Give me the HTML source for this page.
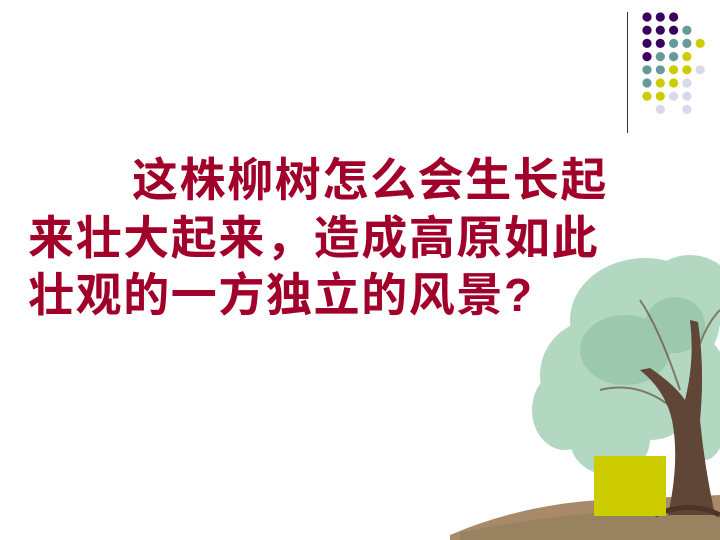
<!DOCTYPE html>
<html><head><meta charset="utf-8"><style>
html,body{margin:0;padding:0;background:#fff}
#s{position:relative;width:720px;height:540px;overflow:hidden;background:#fff}
.t{position:absolute;font-family:"Liberation Sans","Noto Sans CJK SC",sans-serif;font-weight:bold;color:#a0002a;font-size:46px;letter-spacing:1.6px;white-space:nowrap;line-height:1}
</style></head><body>
<div id="s">
<div style="position:absolute;left:627px;top:12px;width:1px;height:121px;background:#333"></div>
<svg width="720" height="140" style="position:absolute;left:0;top:0">
<g id="dots"></g></svg>
<div class="t" style="left:132px;top:157px">这株柳树怎么会生长起</div>
<div class="t" style="left:28px;top:215px">来壮大起来，造成高原如此</div>
<div class="t" style="left:28px;top:272px">壮观的一方独立的风景?</div>
<svg width="720" height="540" style="position:absolute;left:0;top:0">
<path d="M450 535 Q520 505 600 500 L720 495 L720 540 L450 540Z" fill="#a88a68"/>
<path d="M460 533 Q540 516 620 511 L720 513 L720 540 L460 540Z" fill="#8a7a58" opacity=".5"/>
<g fill="#a6d2b8" opacity=".85">
<ellipse cx="645" cy="320" rx="75" ry="62"/>
<ellipse cx="595" cy="375" rx="55" ry="55"/>
<ellipse cx="565" cy="410" rx="33" ry="40"/>
<ellipse cx="690" cy="295" rx="45" ry="40"/>
<ellipse cx="610" cy="440" rx="40" ry="35"/>
<ellipse cx="705" cy="400" rx="25" ry="60"/>
<ellipse cx="650" cy="400" rx="45" ry="40"/>
</g>
<g fill="#7fb596" opacity=".45">
<ellipse cx="625" cy="350" rx="45" ry="35"/>
<ellipse cx="675" cy="325" rx="30" ry="28"/>
</g>
<g stroke="#6a5040" stroke-width="2" fill="none" opacity=".7">
<path d="M675 410 Q640 380 600 390"/><path d="M680 390 Q660 330 640 300"/><path d="M690 380 Q700 330 720 310"/>
</g>
<path d="M668 515 Q680 460 672 420 Q665 390 640 370 L650 368 Q675 385 685 400 Q695 360 690 320 L698 322 Q705 370 700 420 Q705 470 715 515Z" fill="#5f4636"/>
<path d="M655 515 Q690 500 720 515" stroke="#4a3528" stroke-width="5" fill="none"/>
</svg>
<div style="position:absolute;left:594px;top:456px;width:72px;height:60px;background:#cccc00"></div>
</div>
<script>
const rows=["PPP","PPPT","PPTTY","PTTY","TTYYL","TYYL","YYLL"," L L"];
const col={P:"#3a0060",T:"#669999",Y:"#cccc00",L:"#d9d9ec"};
const g=document.getElementById('dots');
rows.forEach((r,i)=>{[...r].forEach((c,j)=>{if(c===' ')return;
const e=document.createElementNS('http://www.w3.org/2000/svg','circle');
e.setAttribute('cx',647+j*13.3);e.setAttribute('cy',17+i*13.2);e.setAttribute('r',4.6);e.setAttribute('fill',col[c]);


g.appendChild(e);});});
</script>
</body></html>
